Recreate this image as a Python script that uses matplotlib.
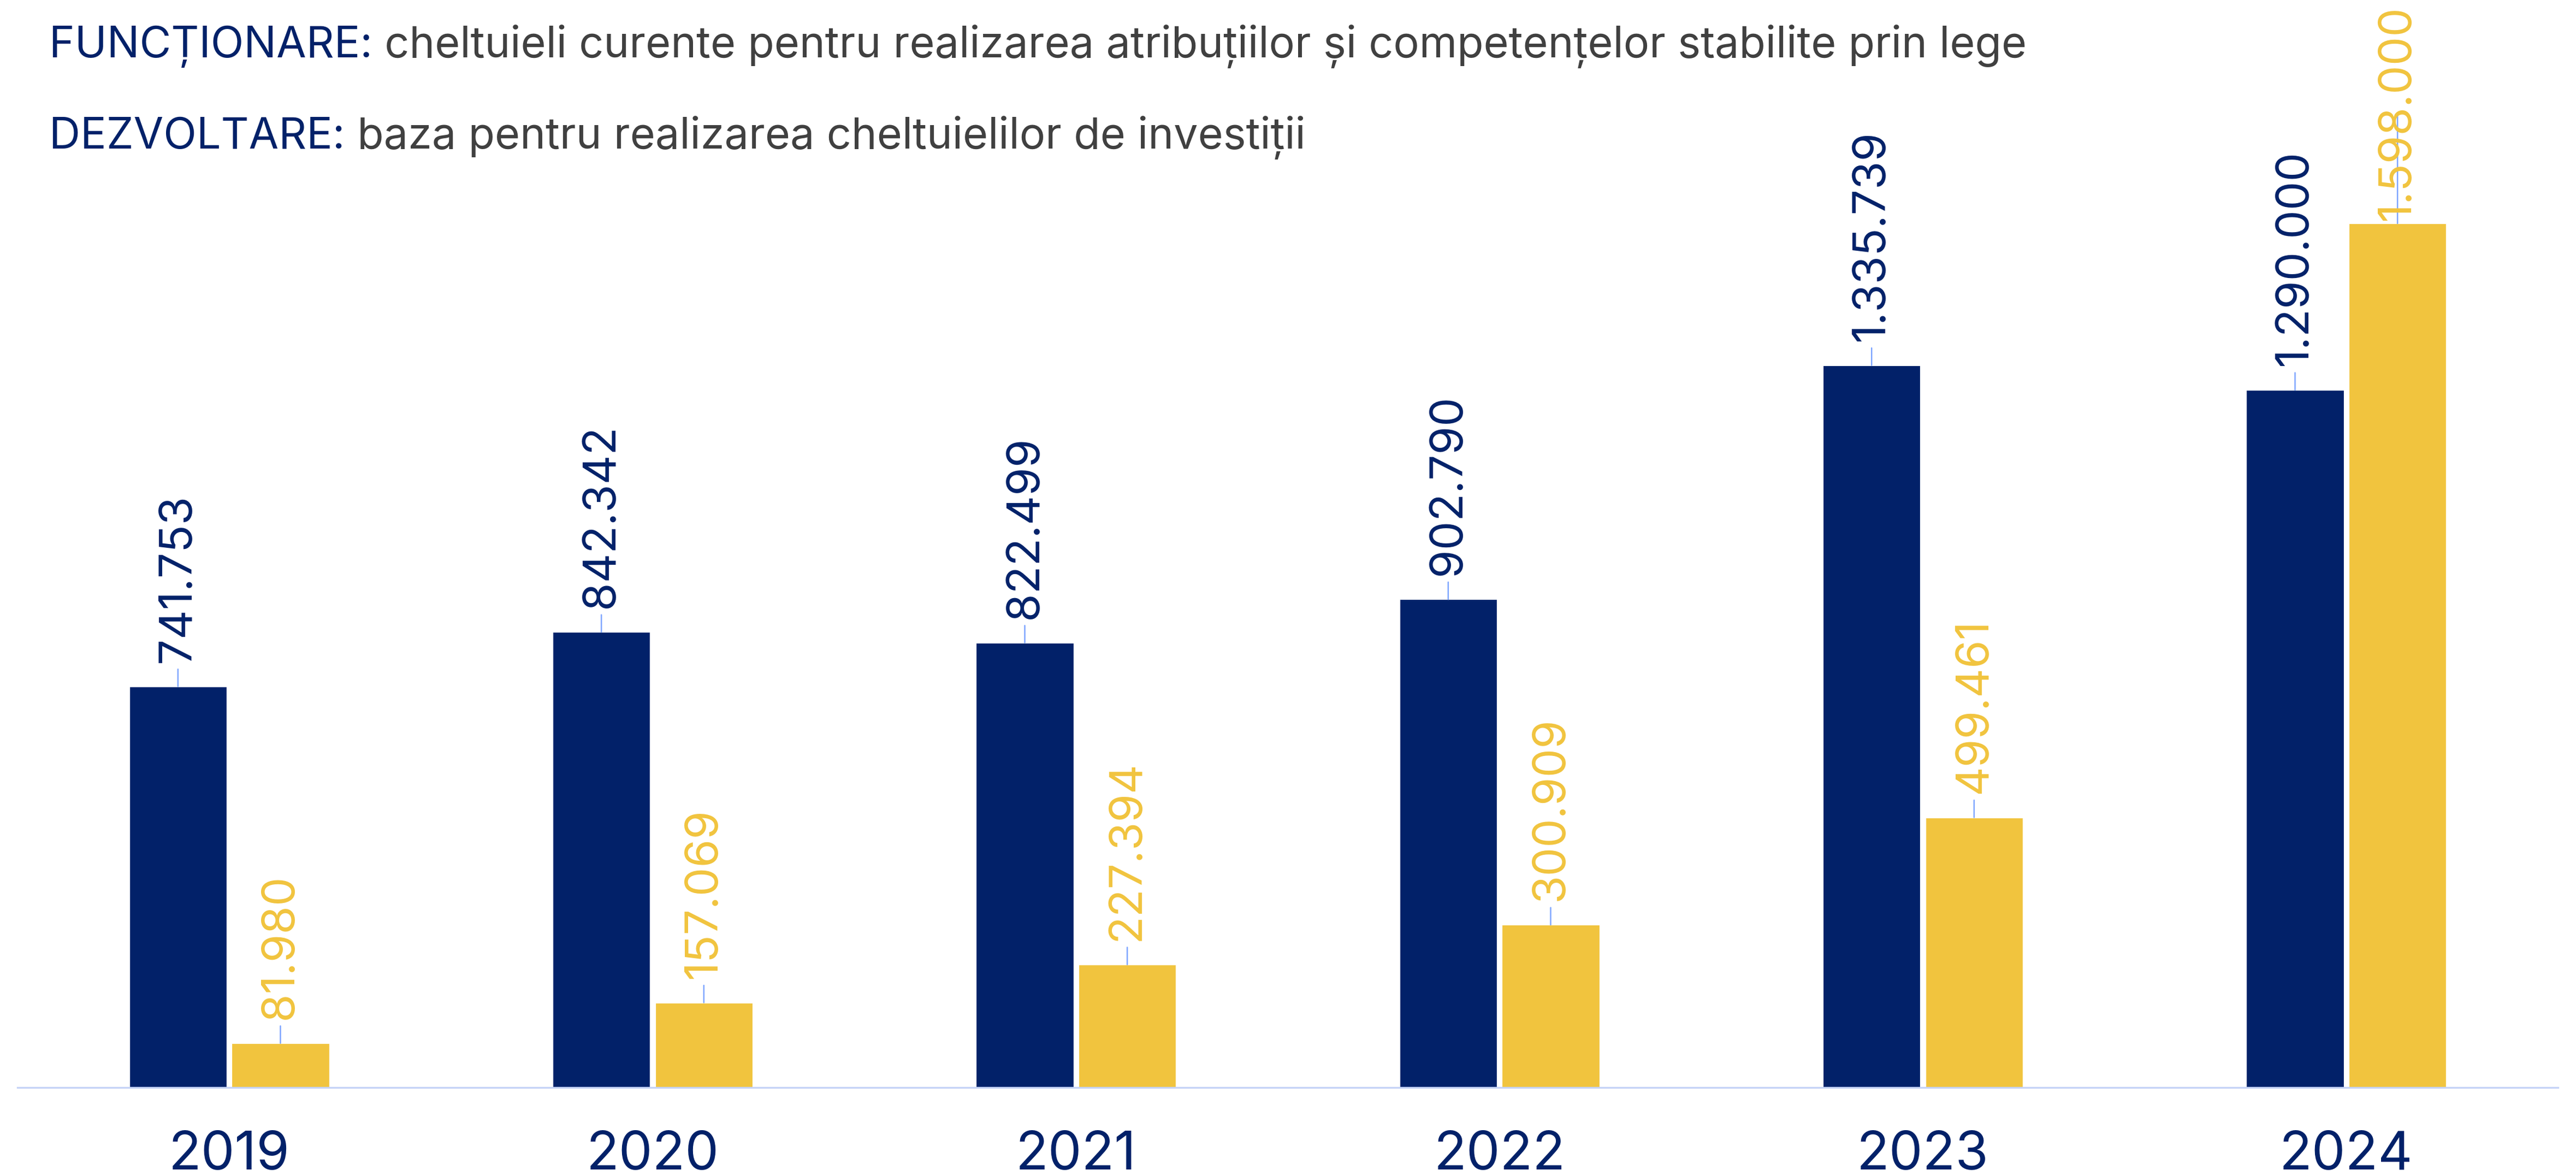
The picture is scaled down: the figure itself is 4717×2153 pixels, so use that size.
import matplotlib
matplotlib.use("Agg")
import matplotlib.pyplot as plt
import numpy as np

years = ["2019", "2020", "2021", "2022", "2023", "2024"]
functionare = [741753, 842342, 822499, 902790, 1335739, 1290000]
dezvoltare = [81980, 157069, 227394, 300909, 499461, 1598000]

NAVY = "#022169"
YELLOW = "#F1C43E"
GRAY = "#404040"
AXIS = "#C5D3F7"
LEADER = "#7FA6FF"

plt.rcParams['font.family'] = ['Inter', 'DejaVu Sans']

W, H, DPI = 4717, 2153, 300
LABEL_FS = 20
fig = plt.figure(figsize=(W / DPI, H / DPI), dpi=DPI)
ax = fig.add_axes([32 / W, 1 - 1991 / H, (4684 - 32) / W, 1991 / H])

x = np.arange(len(years))
bw = 0.23
off = 0.121
b1 = ax.bar(x - off, functionare, bw, color=NAVY, edgecolor="white", linewidth=0.3)
b2 = ax.bar(x + off, dezvoltare, bw, color=YELLOW, edgecolor="white", linewidth=0.3)

ax.set_xlim(-0.5, 5.5)
ax.set_ylim(0, 1991 / 0.00099)
ax.set_xticks(x)
ax.set_xticklabels(years, color=NAVY, fontsize=23.5)
ax.tick_params(axis="x", length=0, pad=19)
ax.set_yticks([])
for s in ["top", "right", "left"]:
    ax.spines[s].set_visible(False)
ax.spines["bottom"].set_color(AXIS)
ax.spines["bottom"].set_linewidth(0.8)
ax.patch.set_alpha(0)

fig.canvas.draw()
renderer = fig.canvas.get_renderer()

def fmt(v):
    return f"{v:,}".replace(",", ".")

def text_len_px(s):
    t = fig.text(0, 0, s, rotation=90, fontsize=LABEL_FS)
    h = t.get_window_extent(renderer=renderer).height
    t.remove()
    return h

DEFAULT_OFF_PX = 44
limit = H - 10
for bars, vals, col in [(b1, functionare, NAVY), (b2, dezvoltare, YELLOW)]:
    for rect, v in zip(bars, vals):
        cx = rect.get_x() + rect.get_width() / 2
        s = fmt(v)
        top_px = ax.transData.transform((cx, v))[1]
        length = text_len_px(s)
        off_px = min(DEFAULT_OFF_PX, limit - length - top_px)
        off_px = max(off_px, 3)
        ax.annotate(s, xy=(cx, v), xytext=(0, off_px * 72 / DPI), textcoords="offset points",
                    rotation=90, ha="center", va="bottom", color=col, fontsize=LABEL_FS,
                    annotation_clip=False,
                    arrowprops=dict(arrowstyle="-", color=LEADER, lw=0.6,
                                    shrinkA=1, shrinkB=0))

def two_part(y, p1, p2):
    t1 = fig.text(90 / W, y, p1, color=NAVY, fontsize=19, va="baseline", ha="left")
    bb = t1.get_window_extent(renderer=renderer)
    fig.text(bb.x1 / W, y, p2, color=GRAY, fontsize=19, va="baseline", ha="left")

two_part(1 - 105 / H, "FUNCȚIONARE:",
         " cheltuieli curente pentru realizarea atribuțiilor și competențelor stabilite prin lege")
two_part(1 - 272 / H, "DEZVOLTARE:", " baza pentru realizarea cheltuielilor de investiții")

fig.savefig("out.png", dpi=DPI)
